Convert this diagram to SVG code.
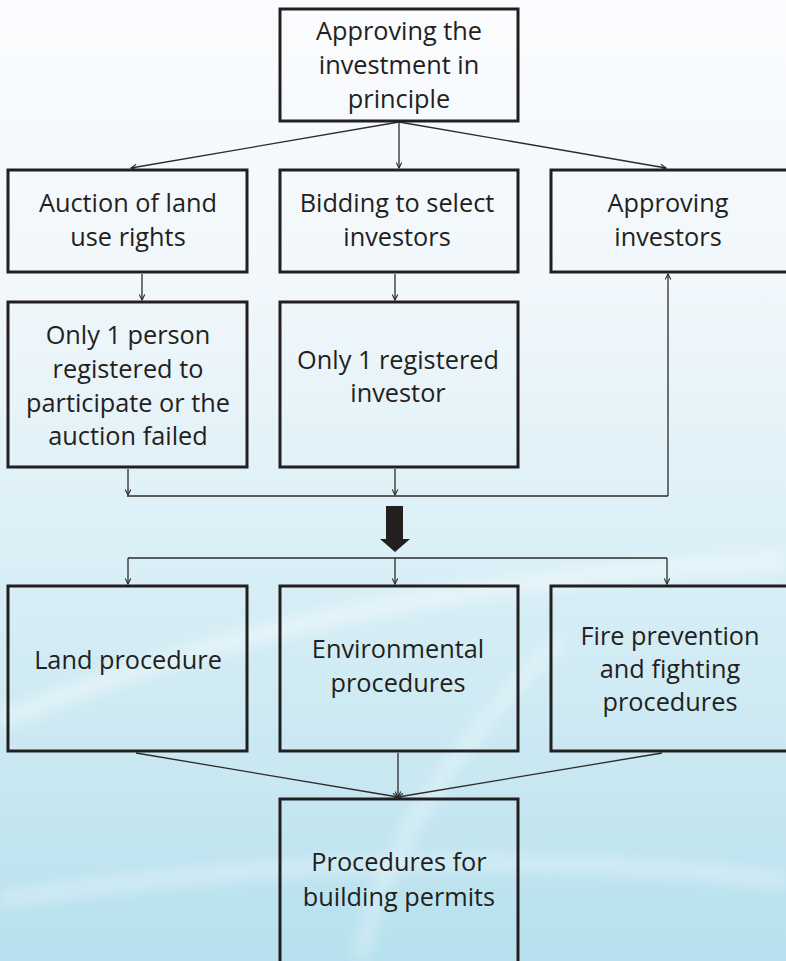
<svg xmlns="http://www.w3.org/2000/svg" width="786" height="961" viewBox="0 0 786 961">
<style>
.box{fill:none;stroke:#231f20;stroke-width:3}
.t{font-family:"Open Sans","Liberation Sans",sans-serif;font-size:25.3px;fill:#231f20;text-anchor:middle}
.c{fill:none;stroke:#2b2b2b;stroke-width:1.3}
</style>
<defs>
<linearGradient id="bg" x1="0" y1="0" x2="0" y2="1">
<stop offset="0" stop-color="#fbfcfe"/>
<stop offset="0.3" stop-color="#f1f7fb"/>
<stop offset="0.55" stop-color="#dcf0f7"/>
<stop offset="0.8" stop-color="#c9e8f2"/>
<stop offset="1" stop-color="#b6e0ee"/>
</linearGradient>
<filter id="blur" x="-20%" y="-50%" width="140%" height="200%"><feGaussianBlur stdDeviation="8"/></filter>
<marker id="ah" viewBox="0 0 10 10" refX="9" refY="5" markerWidth="7" markerHeight="7" markerUnits="userSpaceOnUse" orient="auto">
<path d="M1,1 L9,5 L1,9" fill="none" stroke="#2b2b2b" stroke-width="1.6"/>
</marker>
</defs>
<rect width="786" height="961" fill="url(#bg)"/>
<g filter="url(#blur)" opacity="0.5">
<path d="M0,720 C200,640 420,580 786,560" fill="none" stroke="#ffffff" stroke-width="14"/>
<path d="M360,960 C380,860 440,760 560,640" fill="none" stroke="#ffffff" stroke-width="10"/>
<path d="M0,900 C250,860 520,850 786,880" fill="none" stroke="#ffffff" stroke-width="10"/>
</g>
<g id="connectors">
<line class="c" x1="399" y1="122" x2="131" y2="168" marker-end="url(#ah)"/>
<line class="c" x1="399" y1="122" x2="399" y2="168" marker-end="url(#ah)"/>
<line class="c" x1="399" y1="122" x2="666" y2="168" marker-end="url(#ah)"/>
<line class="c" x1="142" y1="274" x2="142" y2="300" marker-end="url(#ah)"/>
<line class="c" x1="395" y1="274" x2="395" y2="300" marker-end="url(#ah)"/>
<line class="c" x1="128" y1="469" x2="128" y2="495" marker-end="url(#ah)"/>
<line class="c" x1="395" y1="469" x2="395" y2="495" marker-end="url(#ah)"/>
<line class="c" x1="127" y1="496" x2="668" y2="496"/>
<polyline class="c" points="668,496 668,274" marker-end="url(#ah)"/>
<polygon points="386,506 403,506 403,539 410,539 395,552 380,539 386,539" fill="#231f20"/>
<line class="c" x1="128" y1="558" x2="667" y2="558"/>
<line class="c" x1="128" y1="558" x2="128" y2="584" marker-end="url(#ah)"/>
<line class="c" x1="395" y1="558" x2="395" y2="584" marker-end="url(#ah)"/>
<line class="c" x1="667" y1="558" x2="667" y2="584" marker-end="url(#ah)"/>
<line class="c" x1="136" y1="753" x2="398" y2="797" marker-end="url(#ah)"/>
<line class="c" x1="398" y1="753" x2="398" y2="797" marker-end="url(#ah)"/>
<line class="c" x1="662" y1="753" x2="398" y2="797" marker-end="url(#ah)"/>
</g>
<g id="n1"><rect class="box" x="280" y="9" width="238" height="112"/>
<text class="t" x="399" y="40">Approving the</text><text class="t" x="399" y="74">investment in</text><text class="t" x="399" y="108">principle</text></g>
<g id="n2"><rect class="box" x="8" y="170" width="239" height="102"/>
<text class="t" x="128" y="212">Auction of land</text><text class="t" x="128" y="246">use rights</text></g>
<g id="n3"><rect class="box" x="280" y="170" width="238" height="102"/>
<text class="t" x="397" y="212">Bidding to select</text><text class="t" x="397" y="246">investors</text></g>
<g id="n4"><rect class="box" x="551" y="170" width="240" height="102"/>
<text class="t" x="668" y="212">Approving</text><text class="t" x="668" y="246">investors</text></g>
<g id="n5"><rect class="box" x="8" y="302" width="239" height="165"/>
<text class="t" x="128" y="344">Only 1 person</text><text class="t" x="128" y="378">registered to</text><text class="t" x="128" y="412">participate or the</text><text class="t" x="128" y="445">auction failed</text></g>
<g id="n6"><rect class="box" x="280" y="302" width="238" height="165"/>
<text class="t" x="398" y="369">Only 1 registered</text><text class="t" x="398" y="402">investor</text></g>
<g id="n7"><rect class="box" x="8" y="586" width="239" height="165"/>
<text class="t" x="128" y="669">Land procedure</text></g>
<g id="n8"><rect class="box" x="280" y="586" width="238" height="165"/>
<text class="t" x="398" y="658">Environmental</text><text class="t" x="398" y="692">procedures</text></g>
<g id="n9"><rect class="box" x="551" y="586" width="240" height="165"/>
<text class="t" x="670" y="645">Fire prevention</text><text class="t" x="670" y="678">and fighting</text><text class="t" x="670" y="711">procedures</text></g>
<g id="n10"><rect class="box" x="280" y="799" width="238" height="180"/>
<text class="t" x="399" y="871">Procedures for</text><text class="t" x="399" y="906">building permits</text></g>
</svg>
